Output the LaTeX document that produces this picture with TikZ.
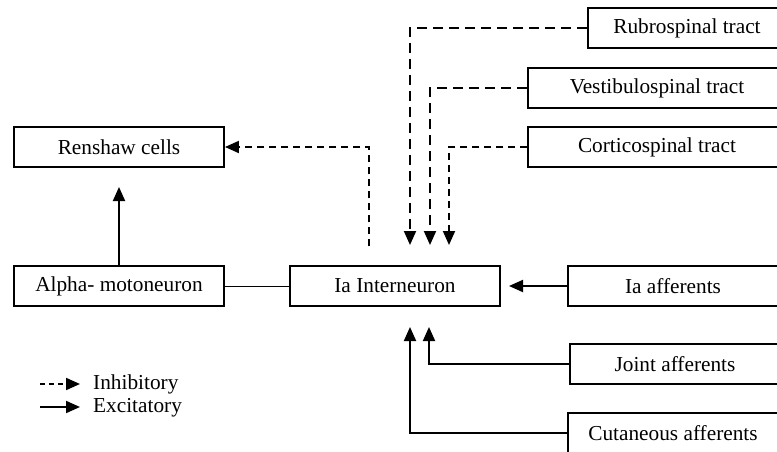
\documentclass[tikz,border=0pt]{standalone}
\usepackage{fontspec}
\setmainfont{Liberation Serif}
\usetikzlibrary{arrows.meta}
\begin{document}
\begin{tikzpicture}[x=1pt,y=-1pt,
  box/.style={draw,line width=1.9pt,inner sep=0pt,minimum height=40pt,font=\fontsize{21.3}{25}\selectfont},
  lbl/.style={font=\fontsize{21.3}{25}\selectfont,inner sep=0pt},
  tip/.style={-{Triangle[length=14pt,width=12pt]}},
  exc/.style={tip,line width=1.9pt},
  inhlong/.style={tip,line width=1.9pt,dash pattern=on 10pt off 6pt},
  inhshort/.style={tip,line width=1.9pt,dash pattern=on 7pt off 5pt}]
\useasboundingbox (0,0) rectangle (777,452);
\clip (0,0) rectangle (777,452);
% boxes
\node[box,minimum width=210pt] (ren) at (119,147) {Renshaw cells};
\node[box,minimum width=210pt] (alpha) at (119,286) {Alpha- motoneuron};
\node[box,minimum width=210pt] (ia) at (395,286) {Ia Interneuron};
\node[box,minimum width=198pt] (rub) at (687,28) {Rubrospinal tract};
\node[box,minimum width=258pt] (ves) at (657,88) {Vestibulospinal tract};
\node[box,minimum width=258pt] (cor) at (657,147) {Corticospinal tract};
\node[box,minimum width=210pt] (iaa) at (673,286) {Ia afferents};
\node[box,minimum width=210pt] (joi) at (675,364) {Joint afferents};
\node[box,minimum width=210pt] (cut) at (673,433) {Cutaneous afferents};
% free ends
\coordinate (t1) at (410,245);
\coordinate (t2) at (430,245);
\coordinate (t3) at (449,245);
\coordinate (r0) at (369,246);
\coordinate (a1) at (119,187);
\coordinate (i1) at (509,286);
\coordinate (j1) at (429,327);
\coordinate (c1) at (410,327);
% connectors
\draw[inhlong] (rub.west) -| (t1);
\draw[inhlong] (ves.west) -| (t2);
\draw[inhshort] (cor.west) -| (t3);
\draw[inhshort] (r0) |- (ren.east);
\draw[exc] (alpha.north) -- (a1);
\draw[line width=0.9pt] (alpha.east) -- (ia.west);
\draw[exc] (iaa.west) -- (i1);
\draw[exc] (joi.west) -| (j1);
\draw[exc] (cut.west) -| (c1);
% legend
\coordinate (l1a) at (40,384);
\coordinate (l1b) at (80,384);
\coordinate (l2a) at (40,407);
\coordinate (l2b) at (80,407);
\draw[tip,line width=1.9pt,dash pattern=on 5pt off 4pt] (l1a) -- (l1b);
\draw[exc] (l2a) -- (l2b);
\node[lbl,anchor=west] (inh) at (93,384) {Inhibitory};
\node[lbl,anchor=west] (ex) at (93,408) {Excitatory};
\end{tikzpicture}
\end{document}
